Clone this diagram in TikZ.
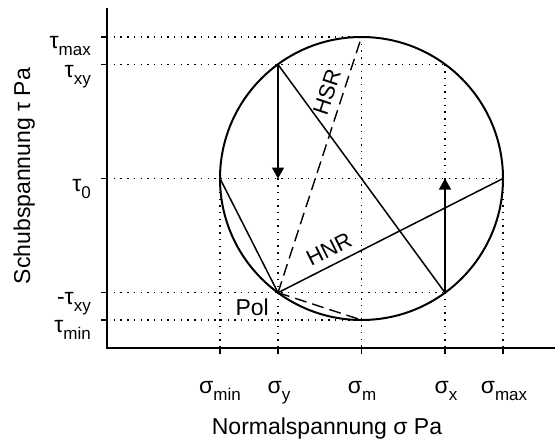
\documentclass[tikz,border=0pt]{standalone}
\usepackage{fontspec}
\setmainfont{Liberation Sans}
\usetikzlibrary{arrows.meta}
\newcommand{\symsub}[2]{#1\raisebox{-0.34em}{\fontsize{17}{17}\selectfont #2}}
\begin{document}
\begin{tikzpicture}[x=1pt,y=-1pt,
  axisline/.style={line width=1.8pt},
  tickline/.style={line width=1.5pt},
  guide/.style={line width=1.3pt,dash pattern=on 1.4pt off 5.3pt},
  solidline/.style={line width=1.5pt},
  dashline/.style={line width=1.4pt,dash pattern=on 12pt off 6pt},
  arrowline/.style={line width=1.5pt,-{Triangle[length=11pt,width=12pt]}},
  lbl/.style={inner sep=0pt,font=\fontsize{23}{26}\selectfont},
  linelbl/.style={inner sep=0pt,font=\fontsize{22}{26}\selectfont},
  axlbl/.style={inner sep=0pt,font=\fontsize{23}{27}\selectfont}]
\useasboundingbox (0,0) rectangle (557,439);
% key points
\coordinate (O) at (107,348);
\coordinate (Ytop) at (107,8);
\coordinate (Xend) at (555,348);
\coordinate (C) at (361.5,178.5);
\coordinate (T) at (361.5,37);
\coordinate (B) at (361.5,320);
\coordinate (L) at (220,178.5);
\coordinate (R) at (503,178.5);
\coordinate (P1) at (278,64.5);
\coordinate (P2) at (445,292.7);
\coordinate (Pol) at (278,292.7);
\coordinate (Ay) at (278,178.5);
\coordinate (Ax) at (445,178.5);
% axis feet
\coordinate (ymax) at (107,37);
\coordinate (yxy) at (107,64.5);
\coordinate (y0) at (107,178.5);
\coordinate (ymxy) at (107,292.7);
\coordinate (ymin) at (107,320);
\coordinate (xmin) at (220,348);
\coordinate (xy) at (278,348);
\coordinate (xm) at (361.5,348);
\coordinate (xx) at (445,348);
\coordinate (xmax) at (503,348);
\coordinate (Qx) at (445,64.5);
% guides
\draw[guide] (ymax) -- (T);
\draw[guide] (yxy) -- (Qx);
\draw[guide] (y0) -- (R);
\draw[guide] (ymxy) -- (P2);
\draw[guide] (ymin) -- (B);
\draw[guide] (L) -- (xmin);
\draw[guide] (P1) -- (xy);
\draw[guide] (T) -- (xm);
\draw[guide] (Qx) -- (xx);
\draw[guide] (R) -- (xmax);
% axes
\draw[axisline] (Ytop) -- (O) -- (Xend);
\foreach \c in {ymax,yxy,y0,ymxy,ymin} \draw[tickline] (\c) -- ++(-6,0);
\foreach \c in {xmin,xy,xm,xx,xmax} \draw[tickline] (\c) -- ++(0,6);
% circle
\draw[line width=2pt] (C) circle[radius=141.5pt];
% lines
\draw[solidline] (P1) -- (P2);
\draw[solidline] (Pol) -- (L);
\draw[solidline] (Pol) -- (R);
\draw[dashline] (Pol) -- (T);
\draw[dashline] (Pol) -- (B);
\draw[arrowline] (P1) -- (Ay);
\draw[arrowline] (P2) -- (Ax);
% labels on lines
\node[linelbl,rotate=71.7] (hsr) at (327,92) {HSR};
\node[linelbl,rotate=26.5] (hnr) at (329,249) {HNR};
\node[lbl,anchor=base east] (pol) at (269,315) {Pol};
% y tick labels
\node[lbl,anchor=base east] (lmax) at (91,48) {\symsub{τ}{max}};
\node[lbl,anchor=base east] (lxy) at (91,77) {\symsub{τ}{xy}};
\node[lbl,anchor=base east] (l0) at (91,191) {\symsub{τ}{0}};
\node[lbl,anchor=base east] (lmxy) at (91,304) {-\symsub{τ}{xy}};
\node[lbl,anchor=base east] (lmin) at (91,332) {\symsub{τ}{min}};
% x tick labels
\node[lbl,anchor=base] (smin) at (220,393) {\symsub{σ}{min}};
\node[lbl,anchor=base] (sy) at (279,393) {\symsub{σ}{y}};
\node[lbl,anchor=base] (sm) at (362,393) {\symsub{σ}{m}};
\node[lbl,anchor=base] (sx) at (446,393) {\symsub{σ}{x}};
\node[lbl,anchor=base] (smax) at (504,393) {\symsub{σ}{max}};
% axis titles
\node[axlbl,anchor=base] (xt) at (327,434) {Normalspannung σ Pa};
\node[axlbl,anchor=base,rotate=90] (yt) at (30,176) {Schubspannung τ Pa};
\end{tikzpicture}
\end{document}
